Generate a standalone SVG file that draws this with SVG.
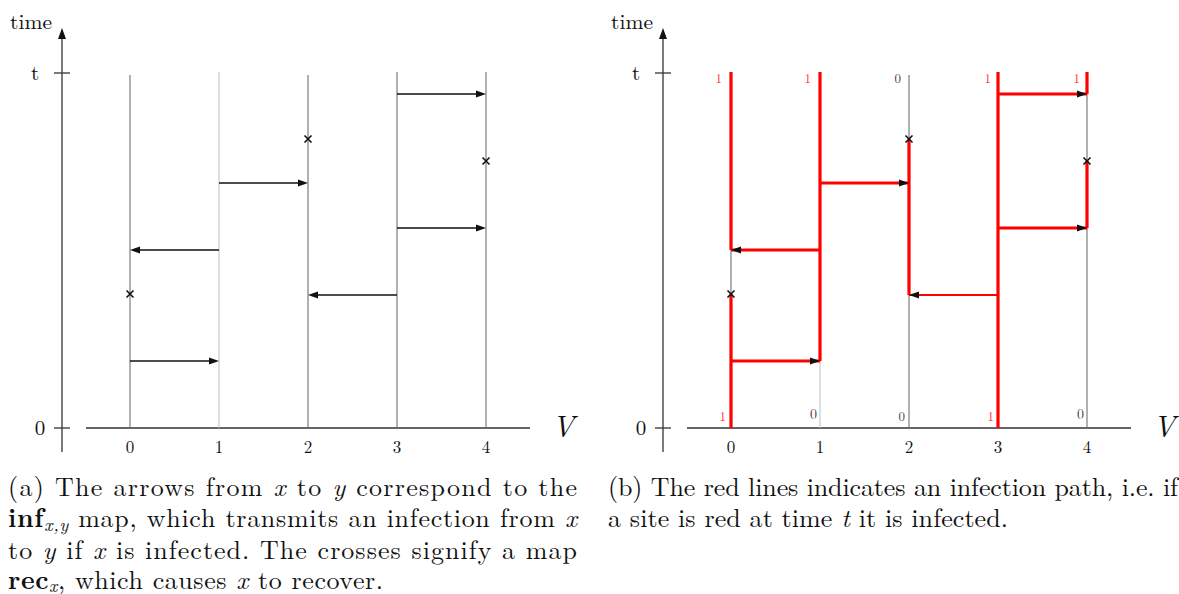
<svg xmlns="http://www.w3.org/2000/svg" width="1179" height="594" viewBox="0 0 1179 594" font-family="'Latin Modern Roman', 'Liberation Serif', serif">
<style>
text{font-family:'Latin Modern Roman','Liberation Serif',serif;fill:#111}
.ax{stroke:#333;stroke-width:1.3;fill:none}
.site{stroke:#707070;stroke-width:1.1}
.site1{stroke:#c4c4c4;stroke-width:1.1}
.arr{stroke:#111;stroke-width:1.3}
.red{stroke:#ff0000;stroke-width:3.2;fill:none}
.redt{stroke:#ff0000;stroke-width:2.2}
.cross{stroke:#111;stroke-width:1.6}
.lbl{font-size:21px}
.dig{font-size:17px;text-anchor:middle}
.V{font-size:30px;font-style:italic}
.sl{font-size:13px;text-anchor:end}
.sr{fill:#ff3030}
.sg{fill:#444}
.cap{font-size:26px}
.it{font-style:italic}
.bf{font-weight:bold}
.sub{font-size:18px;font-style:italic}
</style>
<defs>
<path id="headR" d="M0,0 L-10,-3.5 L-10,3.5 Z" fill="#111"/>
<path id="headL" d="M0,0 L10,-3.5 L10,3.5 Z" fill="#111"/>
<path id="headU" d="M0,0 L-4,11 L4,11 Z" fill="#111"/>
<path id="x" d="M-3.5,-3.5 L3.5,3.5 M-3.5,3.5 L3.5,-3.5" class="cross"/>
<g id="frame">
<line x1="62" y1="452" x2="62" y2="36" class="ax"/>
<use href="#headU" x="62" y="28"/>
<line x1="54" y1="73" x2="70" y2="73" class="ax"/>
<line x1="54" y1="428" x2="70" y2="428" class="ax"/>
<line x1="86" y1="428" x2="530" y2="428" class="ax"/>
<text x="10" y="29" class="lbl" textLength="42" lengthAdjust="spacingAndGlyphs">time</text>
<text x="35" y="80" class="lbl" text-anchor="middle">t</text>
<text x="40" y="435" class="lbl" text-anchor="middle">0</text>
<text x="130" y="453" class="dig">0</text>
<text x="219" y="453" class="dig">1</text>
<text x="308" y="453" class="dig">2</text>
<text x="397" y="453" class="dig">3</text>
<text x="486" y="453" class="dig">4</text>
<text x="552" y="437" class="V">V</text>
</g>
</defs>

<g id="panel-a">
<use href="#frame"/>
<g id="sites-a">
<line x1="130" y1="75" x2="130" y2="428" class="site"/>
<line x1="219" y1="72" x2="219" y2="428" class="site1"/>
<line x1="308" y1="75" x2="308" y2="428" class="site"/>
<line x1="397" y1="72" x2="397" y2="428" class="site"/>
<line x1="486" y1="72" x2="486" y2="428" class="site"/>
</g>
<g id="connectors-a">
<line x1="130" y1="361" x2="212" y2="361" class="arr"/><use href="#headR" x="219" y="361"/>
<line x1="219" y1="250" x2="137" y2="250" class="arr"/><use href="#headL" x="130" y="250"/>
<line x1="219" y1="183" x2="301" y2="183" class="arr"/><use href="#headR" x="308" y="183"/>
<line x1="397" y1="295" x2="315" y2="295" class="arr"/><use href="#headL" x="308" y="295"/>
<line x1="397" y1="228" x2="479" y2="228" class="arr"/><use href="#headR" x="486" y="228"/>
<line x1="397" y1="94" x2="479" y2="94" class="arr"/><use href="#headR" x="486" y="94"/>
</g>
<g id="crosses-a">
<use href="#x" x="130" y="294"/>
<use href="#x" x="308" y="139"/>
<use href="#x" x="486" y="161"/>
</g>
</g>

<g id="panel-b">
<use href="#frame" x="601"/>
<g id="sites-b">
<line x1="731" y1="75" x2="731" y2="428" class="site"/>
<line x1="820" y1="72" x2="820" y2="428" class="site1"/>
<line x1="909" y1="75" x2="909" y2="428" class="site"/>
<line x1="998" y1="72" x2="998" y2="428" class="site"/>
<line x1="1087" y1="72" x2="1087" y2="428" class="site"/>
</g>
<g id="infection-path">
<line x1="731" y1="428" x2="731" y2="294" class="red"/>
<line x1="731" y1="250" x2="731" y2="72" class="red"/>
<line x1="820" y1="361" x2="820" y2="72" class="red"/>
<line x1="909" y1="295" x2="909" y2="139" class="red"/>
<line x1="998" y1="428" x2="998" y2="72" class="red"/>
<line x1="1087" y1="228" x2="1087" y2="161" class="red"/>
<line x1="1087" y1="94" x2="1087" y2="72" class="red"/>
</g>
<g id="connectors-b">
<line x1="731" y1="361" x2="820" y2="361" class="red"/><use href="#headR" x="820" y="361"/>
<line x1="820" y1="250" x2="731" y2="250" class="red"/><use href="#headL" x="731" y="250"/>
<line x1="820" y1="183" x2="909" y2="183" class="red"/><use href="#headR" x="909" y="183"/>
<line x1="998" y1="295" x2="909" y2="295" class="redt"/><use href="#headL" x="909" y="295"/>
<line x1="998" y1="228" x2="1087" y2="228" class="red"/><use href="#headR" x="1087" y="228"/>
<line x1="998" y1="94" x2="1087" y2="94" class="red"/><use href="#headR" x="1087" y="94"/>
</g>
<g id="crosses-b">
<use href="#x" x="731" y="294"/>
<use href="#x" x="909" y="139"/>
<use href="#x" x="1087" y="161"/>
</g>
<g id="state-labels">
<text x="722" y="83" class="sl sr">1</text>
<text x="811" y="83" class="sl sr">1</text>
<text x="901" y="83" class="sl sg">0</text>
<text x="991" y="83" class="sl sr">1</text>
<text x="1080" y="83" class="sl sr">1</text>
<text x="726" y="421" class="sl sr">1</text>
<text x="817" y="419" class="sl sg" style="font-size:14px">0</text>
<text x="905" y="421" class="sl sg">0</text>
<text x="994" y="421" class="sl sr">1</text>
<text x="1084" y="419" class="sl sg" style="font-size:14px">0</text>
</g>
</g>

<g id="caption-a">
<text x="8" y="496" class="cap" textLength="569" lengthAdjust="spacing">(a) The arrows from <tspan class="it">x</tspan> to <tspan class="it">y</tspan> correspond to the</text>
<text x="8" y="527" class="cap" textLength="569" lengthAdjust="spacing"><tspan class="bf">inf</tspan><tspan class="sub" dy="4">x,y</tspan><tspan dy="-4"> map, which transmits an infection from </tspan><tspan class="it">x</tspan></text>
<text x="8" y="559" class="cap" textLength="569" lengthAdjust="spacing">to <tspan class="it">y</tspan> if <tspan class="it">x</tspan> is infected.  The crosses signify a map</text>
<text x="8" y="589" class="cap" textLength="375" lengthAdjust="spacing"><tspan class="bf">rec</tspan><tspan class="sub" dy="3">x</tspan><tspan dy="-3">, which causes </tspan><tspan class="it">x</tspan> to recover.</text>
</g>
<g id="caption-b">
<text x="608" y="496" class="cap" textLength="570" lengthAdjust="spacing">(b) The red lines indicates an infection path, i.e. if</text>
<text x="608" y="527" class="cap" textLength="400" lengthAdjust="spacing">a site is red at time <tspan class="it">t</tspan> it is infected.</text>
</g>
</svg>
